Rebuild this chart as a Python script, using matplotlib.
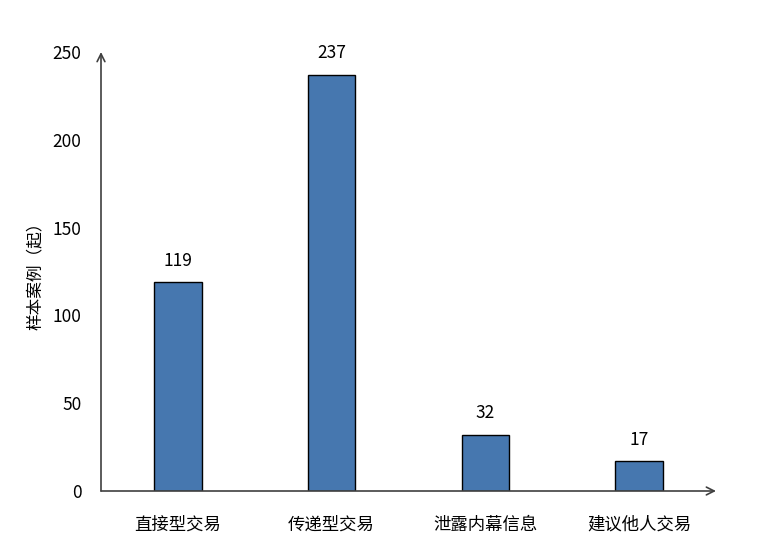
import matplotlib
matplotlib.use("Agg")
import matplotlib.pyplot as plt

plt.rcParams["font.family"] = ["Noto Sans CJK SC", "DejaVu Sans"]

categories = ["直接型交易", "传递型交易", "泄露内幕信息", "建议他人交易"]
counts = [119, 237, 32, 17]
yticks = [0, 50, 100, 150, 200, 250]

W, H = 763, 554
fig = plt.figure(figsize=(W / 100, H / 100), dpi=100)
ax = fig.add_axes([101 / W, 1 - 491 / H, (716 - 101) / W, (491 - 52) / H])

x = list(range(len(categories)))
bars = ax.bar(x, counts, width=0.31, color="#4677AF", edgecolor="black", linewidth=1)
for b, v in zip(bars, counts):
    ax.annotate(str(v), (b.get_x() + b.get_width() / 2, v), xytext=(0, 9),
                textcoords="offset points", ha="center", va="bottom", fontsize=12.5)

ax.set_xlim(-0.5, 3.5)
ax.set_ylim(0, 250)
ax.set_xticks(x)
ax.set_xticklabels(categories, fontsize=12.5)
ax.set_yticks(yticks)
ax.set_yticklabels([str(t) for t in yticks], fontsize=12.5)
ax.tick_params(axis="both", length=0)
ax.tick_params(axis="y", pad=14)
ax.tick_params(axis="x", pad=18)
ax.set_ylabel("样本案例（起）", fontsize=12, labelpad=6)

for s in ["top", "right", "left", "bottom"]:
    ax.spines[s].set_visible(False)

# axis lines with open arrow heads
arrow = dict(arrowstyle="->", color="#404040", lw=1.2, mutation_scale=14, shrinkA=0, shrinkB=0)
ax.annotate("", xy=(1, 0), xytext=(0, 0), xycoords="axes fraction", arrowprops=arrow)
ax.annotate("", xy=(0, 1), xytext=(0, 0), xycoords="axes fraction", arrowprops=arrow)

fig.savefig("out.png", dpi=100)
